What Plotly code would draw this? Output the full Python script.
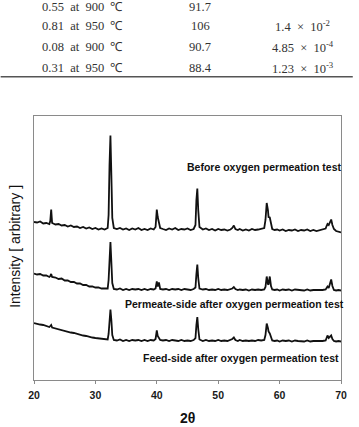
import plotly.graph_objects as go

# ---------------- data ----------------
two_theta = (
    [20, 20.5, 21, 21.5, 22, 22.5, 22.65, 22.8, 22.95, 23.5, 24, 24.5, 25, 25.5,
     26, 26.5, 27, 27.5, 28, 28.5, 29, 29.5, 30, 30.5, 31, 31.5]
    + [32.0, 32.15, 32.3, 32.45, 32.6, 32.75, 33.0]
    + [33.5, 34, 34.5, 35, 35.5, 36, 36.5, 37, 37.5, 38, 38.5, 39, 39.5]
    + [39.8, 40.0, 40.15, 40.35, 40.55]
    + [41, 41.5, 42, 42.5, 43, 43.5, 44, 44.5, 45, 45.5, 46]
    + [46.3, 46.45, 46.6, 46.75, 46.95]
    + [47.5, 48, 48.5, 49, 49.5, 50, 50.5, 51, 51.5, 52]
    + [52.3, 52.55, 52.8]
    + [53.2, 53.5, 54, 54.5, 55, 55.5, 56, 56.5, 57, 57.5]
    + [57.7, 57.9, 58.1, 58.2, 58.4, 58.6, 58.8]
    + [59.2, 59.6, 60, 60.5, 61, 61.5, 62, 62.5, 63, 63.5, 64, 64.5, 65, 65.5,
       66, 66.5, 67, 67.5]
    + [67.65, 67.8, 68.0, 68.15, 68.4, 68.6, 68.85]
    + [69.2, 69.6, 70]
)

before_test = (
    [158, 157.5, 158.5, 156.5, 157, 156, 159, 170.5, 157, 155.5, 156, 154.5, 155, 153.5,
     154.5, 153, 153.5, 152, 153, 151.5, 152.5, 151, 152, 150.5, 151.5, 150.5]
    + [152, 165, 215, 244.5, 205, 162, 152]
    + [151, 152, 150.5, 151.5, 150, 151.5, 150.5, 152, 150, 151, 150, 151.5, 150.5]
    + [153, 170.5, 163, 158, 152]
    + [151, 150, 151.5, 150.5, 152, 150, 151, 150.5, 151.5, 150, 151]
    + [155, 180, 191.5, 170, 153]
    + [150.5, 151.5, 150, 151, 149.5, 151, 150, 150.5, 149.5, 150.5]
    + [152, 154.5, 151]
    + [150, 151, 149.5, 150.5, 149.5, 151, 150, 150.5, 151, 152]
    + [160, 177, 170, 163, 162.5, 155, 151]
    + [150, 150.5, 149.5, 150.5, 149, 150, 149.5, 150.5, 149, 150, 149.5, 150.5, 149, 150,
       149, 150, 150.5, 151.5]
    + [154, 156, 155, 157, 160.5, 155, 151]
    + [149, 148.5, 147.5]
)

permeate_side = (
    [106.5, 105.5, 106, 104.5, 104.5, 103, 104, 106, 103, 102.5, 101, 101.5, 99.5, 99.5,
     98, 98, 96.5, 96.5, 95, 95, 93.5, 93.5, 92.5, 92.5, 91.5, 91.5]
    + [91.5, 100, 125, 138, 118, 97, 91]
    + [90.5, 91.5, 90, 91, 90, 91, 90.5, 91, 90, 91, 90, 91, 90.5]
    + [91.5, 98.5, 93.5, 97.5, 91]
    + [90.5, 91, 90, 91, 90.5, 91, 90, 91, 90.5, 90, 91]
    + [92.5, 106, 115.5, 102, 91.5]
    + [90.5, 91, 90, 90.5, 90, 91, 90, 90.5, 90, 90.5]
    + [91.5, 93, 91]
    + [90, 90.5, 90, 90.5, 89.5, 90.5, 90, 90.5, 90, 90.5]
    + [93, 103.5, 96, 95.5, 103.5, 94, 90.5]
    + [90, 90.5, 89.5, 90.5, 90, 90.5, 89.5, 90.5, 90, 90, 89.5, 90.5, 89.5, 90,
       90, 89.5, 90, 90.5]
    + [92, 93.5, 92, 95, 100.5, 94, 90]
    + [89.5, 90, 89.5]
)

feed_side = (
    [57, 56, 55.5, 55, 54, 53, 54, 55, 52.5, 51.5, 51, 50, 49, 48.5,
     47.5, 47, 46, 45.5, 44.5, 44, 43, 42.5, 42, 41.5, 41, 40.5]
    + [40.5, 46, 62, 70.5, 60, 45, 40]
    + [39.5, 40.5, 39, 40, 39, 40, 39.5, 40, 39, 40, 39, 40, 39.5]
    + [41, 49.5, 44, 42, 40]
    + [39.5, 40, 39, 40, 39.5, 39, 40, 39, 39.5, 39, 40]
    + [42, 55, 63, 51, 40.5]
    + [39, 40, 39, 39.5, 39, 40, 39, 39.5, 39, 40]
    + [41, 42.5, 40]
    + [39, 40, 39, 39.5, 39, 39.5, 39, 40, 39.5, 40]
    + [45, 56.5, 52, 48.5, 46.5, 42, 39.5]
    + [39, 39.5, 38.5, 39.5, 39, 39.5, 38.5, 39.5, 39, 39, 38.5, 39.5, 38.5, 39,
       39, 38.5, 39, 39.5]
    + [42, 44.5, 42, 43, 44.5, 41, 39]
    + [38.5, 39, 38.5]
)

series_labels = ["Before oxygen permeation test",
                 "Permeate-side after oxygen permeation test",
                 "Feed-side after oxygen permeation test"]

x_ticks = [20, 30, 40, 50, 60, 70]

S = "\u00a0\u00a0"
table_col1 = [f"0.55{S}at{S}900{S}℃", f"0.81{S}at{S}950{S}℃",
              f"0.08{S}at{S}900{S}℃", f"0.31{S}at{S}950{S}℃"]
table_col2 = ["91.7", "106", "90.7", "88.4"]
table_col3 = ["", f"1.4{S}×{S}10<sup>-2</sup>", f"4.85{S}×{S}10<sup>-4</sup>",
              f"1.23{S}×{S}10<sup>-3</sup>"]

# ---------------- figure ----------------
W, H = 359, 427
L, R, T, B = 34, 12, 116, 47
pw, ph = W - L - R, H - T - B


def px(xp):
    return (xp - L) / pw


def py(yp):
    return (H - B - yp) / ph


fig = go.Figure()
n = min(len(two_theta), len(before_test), len(permeate_side), len(feed_side))
for ys in (before_test, permeate_side, feed_side):
    fig.add_trace(go.Scatter(x=two_theta[:n], y=ys[:n], mode="lines",
                             line=dict(color="#111111", width=1.8),
                             showlegend=False, hoverinfo="skip"))

axis_col = "#8a8a8a"
fig.update_layout(
    width=W, height=H,
    margin=dict(l=L, r=R, t=T, b=B, pad=0),
    paper_bgcolor="white", plot_bgcolor="white",
    font=dict(family="Liberation Sans, Arial, sans-serif", color="#111"),
    xaxis=dict(range=[20, 70], tickvals=x_ticks, ticktext=[str(t) for t in x_ticks],
               ticks="outside", ticklen=3,
               tickcolor=axis_col, showline=True, linecolor=axis_col, linewidth=1.2,
               mirror=True, showgrid=False, zeroline=False,
               tickfont=dict(size=10.5, family="Liberation Sans, Arial", color="#1a1a1a",
                             weight="bold"),
               ticklabelstandoff=2),
    yaxis=dict(range=[0, ph], showticklabels=False, ticks="", showline=True,
               linecolor=axis_col, linewidth=1.2, mirror=True, showgrid=False,
               zeroline=False),
)

annos = []
# curve labels
label_pos = [(350.5, 166.7), (352.5, 304.3), (347.0, 357.7)]
for txt, (xr, yc) in zip(series_labels, label_pos):
    annos.append(dict(text=txt, x=px(xr), y=py(yc), xref="paper", yref="paper",
                      xanchor="right", yanchor="middle", showarrow=False,
                      font=dict(size=10.5, color="#111", weight="bold")))
# axis titles
annos.append(dict(text="2θ", x=px(190.5), y=py(417.7), xref="paper", yref="paper",
                  xanchor="center", yanchor="middle", showarrow=False,
                  font=dict(size=14, color="#111", weight="bold")))
annos.append(dict(text="Intensity [ arbitrary ]", x=px(14.5), y=py(246), xref="paper",
                  yref="paper", xanchor="center", yanchor="middle", textangle=-90,
                  showarrow=False, font=dict(size=14, color="#111")))
# table fragment
row_y = [6.7, 26.0, 46.7, 67.7]
serif = "Liberation Serif, Times New Roman, serif"
for c1, c2, c3, yr in zip(table_col1, table_col2, table_col3, row_y):
    for txt, xc in ((c1, 83.3), (c2, 203.3), (c3, 308.0)):
        if txt:
            annos.append(dict(text=txt, x=px(xc), y=py(yr), xref="paper", yref="paper",
                              xanchor="center", yanchor="middle", showarrow=False,
                              font=dict(size=12.5, family=serif, color="#333")))
fig.update_layout(annotations=annos)

fig.add_shape(type="line", xref="paper", yref="paper", x0=px(0), x1=px(W),
              y0=py(76.7), y1=py(76.7), line=dict(color="#555", width=1.5))

fig.write_html("out.html")
